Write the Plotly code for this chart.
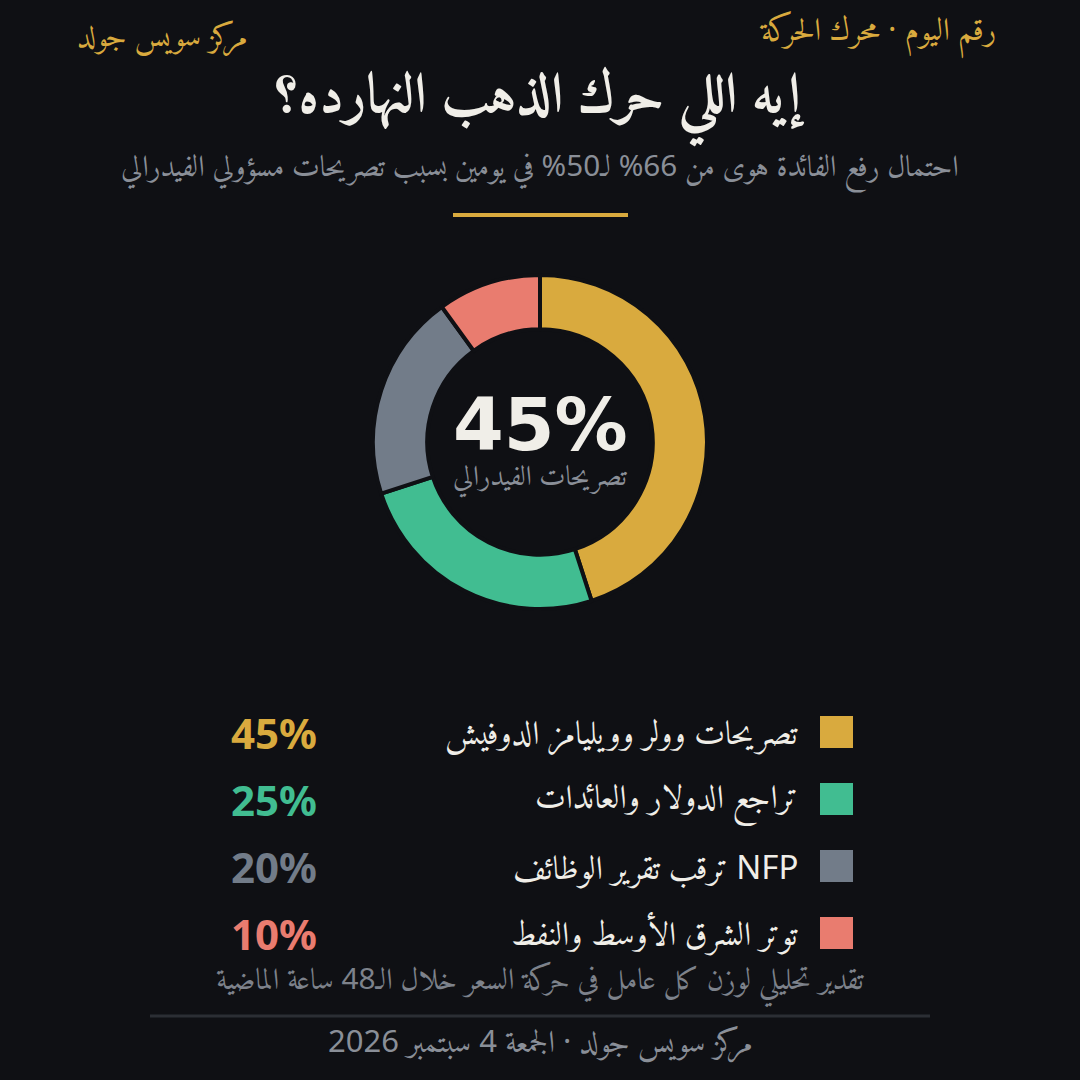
import plotly.graph_objects as go

categories = ["تصريحات وولر وويليامز الدوفيش", "تراجع الدولار والعائدات", "ترقب تقرير الوظائف NFP", "توتر الشرق الأوسط والنفط"]
values = [45, 25, 20, 10]
colors = ["#d9aa3e", "#41bd91", "#727c89", "#e97c6f"]

BG = "#0f1014"
W = H = 1080
AR = "Noto Sans, Amiri, sans-serif"

def py(y):
    return 1 - y / H

def px(x):
    return x / W

cx, cy, R = 540, 442, 167

fig = go.Figure()
fig.add_trace(go.Pie(
    labels=categories, values=values, sort=False, direction="clockwise", rotation=0,
    hole=0.675, marker=dict(colors=colors, line=dict(color=BG, width=4)),
    textinfo="none", hoverinfo="label+percent", showlegend=False,
    domain=dict(x=[px(cx - R), px(cx + R)], y=[py(cy + R), py(cy - R)]),
))

ann = []
def text(x, y, s, size, color, bold=False, xanchor="center", family=AR):
    ann.append(dict(x=px(x), y=py(y), xref="paper", yref="paper", text=("<b>%s</b>" % s) if bold else s,
                    showarrow=False, xanchor=xanchor, yanchor="middle",
                    font=dict(size=size, color=color, family=family)))

text(250, 35, "مركز سويس جولد", 30.5, "#d9aa3e", xanchor="right")
text(998, 32, "رقم اليوم · محرك الحركة", 31.5, "#d9aa3e", xanchor="right")
text(540, 99, "إيه اللي حرك الذهب النهارده؟", 56, "#f0eee8", bold=True)
text(540, 169, "احتمال رفع الفائدة هوى من 66% لـ50% في يومين بسبب تصريحات مسؤولي الفيدرالي", 29.7, "#8a8f98")

text(540, 424, "45%", 73, "#f0eee8", bold=True, family="DejaVu Sans")
text(540, 476, "تصريحات الفيدرالي", 28, "#8a8f98")

shapes = [dict(type="line", xref="paper", yref="paper", x0=px(453), x1=px(628), y0=py(215), y1=py(215),
               line=dict(color="#d9aa3e", width=4)),
          dict(type="line", xref="paper", yref="paper", x0=px(150), x1=px(930), y0=py(1016), y1=py(1016),
               line=dict(color="#2b2e34", width=3))]

row_y0, row_dy = 732, 67
for i, (c, v, col) in enumerate(zip(categories, values, colors)):
    y = row_y0 + i * row_dy
    shapes.append(dict(type="rect", xref="paper", yref="paper", x0=px(820), x1=px(853),
                       y0=py(y + 16), y1=py(y - 16), fillcolor=col, line=dict(width=0)))
    text(800, y, c, 33, "#f0eee8", xanchor="right")
    text(319, y, "%d%%" % v, 42, col, bold=True, xanchor="right", family="Noto Sans, sans-serif")

text(540, 982, "تقدير تحليلي لوزن كل عامل في حركة السعر خلال الـ48 ساعة الماضية", 29.8, "#7d828b")
text(540, 1041, "مركز سويس جولد · الجمعة 4 سبتمبر 2026", 31, "#8a8f98")

fig.update_layout(width=W, height=H, margin=dict(l=0, r=0, t=0, b=0),
                  paper_bgcolor=BG, plot_bgcolor=BG, annotations=ann, shapes=shapes)
fig.write_html("out.html", config={"displayModeBar": False},
               post_script="document.body.style.margin='0';document.body.style.background='%s';" % BG)
